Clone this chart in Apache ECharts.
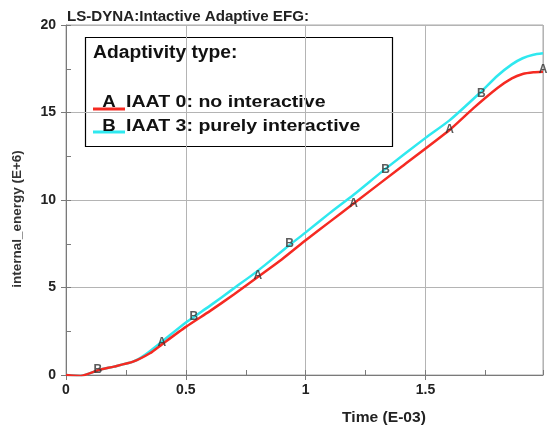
<!DOCTYPE html>
<html>
<head>
<meta charset="utf-8">
<script src="https://cdn.jsdelivr.net/npm/echarts@6/dist/echarts.min.js"></script>
<style>
  html, body { margin: 0; padding: 0; background: #fff; }
  #chart { width: 549px; height: 428px; }
</style>
</head>
<body>
<div id="chart"></div>
<script>
// Internal energy history for two adaptivity settings (time in E-03, energy in E+6)
const timeA = [0, 0.06, 0.14, 0.2, 0.28, 0.35, 0.4, 0.5, 0.6, 0.7, 0.8, 0.9, 1.0, 1.1, 1.2, 1.4, 1.6, 1.7, 1.8, 1.86, 1.905, 1.95, 1.99];
const energyA = [0, -0.05, 0.3, 0.48, 0.76, 1.24, 1.75, 2.75, 3.65, 4.6, 5.6, 6.6, 7.7, 8.75, 9.8, 11.9, 14.0, 15.25, 16.4, 16.95, 17.2, 17.3, 17.33];

const timeB = [0, 0.06, 0.14, 0.2, 0.28, 0.33, 0.4, 0.5, 0.6, 0.7, 0.8, 0.93, 1.0, 1.1, 1.2, 1.33, 1.5, 1.6, 1.725, 1.8, 1.86, 1.905, 1.95, 1.99];
const energyB = [0, -0.05, 0.3, 0.48, 0.76, 1.15, 1.9, 3.0, 3.95, 4.95, 5.95, 7.4, 8.15, 9.25, 10.3, 11.75, 13.55, 14.55, 16.1, 17.1, 17.75, 18.1, 18.3, 18.38];

// Curve identifier letters placed along each curve
const markTimeA = [0.4, 0.8, 1.2, 1.6, 1.99];
const markEnergyA = [1.85, 5.67, 9.81, 14.0, 17.45];
const markTimeB = [0.133, 0.533, 0.933, 1.333, 1.733];
const markEnergyB = [0.3, 3.35, 7.52, 11.75, 16.1];

const xTicks = [0, 0.5, 1, 1.5];
const yTicks = [0, 5, 10, 15, 20];

const titleText = 'LS-DYNA:Intactive Adaptive EFG:';
const legendTitle = 'Adaptivity type:';
const nameA = 'IAAT 0: no interactive';
const nameB = 'IAAT 3: purely interactive';
const xName = 'Time (E-03)';
const yName = 'internal_energy (E+6)';

const FONT = '"Liberation Sans", Arial, sans-serif';
const RED = '#f52a22';
const CYAN = '#2fe8ef';

const zip = (xs, ys) => xs.map((x, i) => [x, ys[i]]);

const chart = echarts.init(document.getElementById('chart'), null, { renderer: 'canvas' });

const gridBox = { left: 66, right: 6, top: 25, bottom: 53 };

const letterLabel = (ch) => ({
  show: true,
  position: 'inside',
  formatter: ch,
  color: '#333',
  fontFamily: FONT,
  fontWeight: 'bold',
  fontSize: 12
});

// horizontally widened bold text helper
const wideText = (x, y, text, size, sx, extra) => ({
  type: 'text', x: x, y: y, scaleX: sx,
  style: Object.assign({ text: text, fill: '#111', font: 'bold ' + size + 'px ' + FONT, verticalAlign: 'middle' }, extra || {})
});

chart.setOption({
  animation: false,
  backgroundColor: '#fff',
  grid: Object.assign({ show: true, borderColor: '#a8a8a8', borderWidth: 1 }, gridBox),
  xAxis: [
    {
      type: 'value', min: 0, max: 1.99, interval: 0.5,
      axisLine: { show: true, lineStyle: { color: '#7a7a7a', width: 1 } },
      axisTick: { show: true, inside: false, length: 5, lineStyle: { color: '#7a7a7a' } },
      axisLabel: {
        margin: 8, color: '#222', fontFamily: FONT, fontWeight: 'bold', fontSize: 14,
        showMaxLabel: false,
        formatter: (v) => (xTicks.indexOf(v) >= 0 ? String(v) : '')
      },
      splitLine: { show: true, lineStyle: { color: '#b4b4b4', width: 1 } }
    },
    {
      // inner minor ticks every 0.25
      type: 'value', min: 0, max: 1.99, interval: 0.25, position: 'bottom',
      axisLine: { show: false },
      axisTick: { show: true, inside: true, length: 5, lineStyle: { color: '#7a7a7a' } },
      axisLabel: { show: false },
      splitLine: { show: false }
    }
  ],
  yAxis: [
    {
      type: 'value', min: 0, max: 20, interval: 5,
      axisLine: { show: true, lineStyle: { color: '#7a7a7a', width: 1 } },
      axisTick: { show: true, inside: false, length: 5, lineStyle: { color: '#7a7a7a' } },
      axisLabel: {
        margin: 10, color: '#222', fontFamily: FONT, fontWeight: 'bold', fontSize: 14,
        formatter: (v) => (yTicks.indexOf(v) >= 0 ? String(v) : '')
      },
      splitLine: { show: true, lineStyle: { color: '#b4b4b4', width: 1 } }
    },
    {
      // inner minor ticks every 2.5
      type: 'value', min: 0, max: 20, interval: 2.5, position: 'left',
      axisLine: { show: false },
      axisTick: { show: true, inside: true, length: 5, lineStyle: { color: '#7a7a7a' } },
      axisLabel: { show: false },
      splitLine: { show: false }
    }
  ],
  series: [
    {
      name: nameA, type: 'line', data: zip(timeA, energyA), showSymbol: false, smooth: 0.2,
      lineStyle: { color: RED, width: 2.5 }, z: 3
    },
    {
      name: nameB, type: 'line', data: zip(timeB, energyB), showSymbol: false, smooth: 0.2,
      lineStyle: { color: CYAN, width: 2.5 }, z: 2
    },
    {
      type: 'scatter', data: zip(markTimeA, markEnergyA), symbolSize: 1,
      itemStyle: { color: 'rgba(0,0,0,0)' }, label: letterLabel('A'), clip: false, z: 5
    },
    {
      type: 'scatter', data: zip(markTimeB, markEnergyB), symbolSize: 1,
      itemStyle: { color: 'rgba(0,0,0,0)' }, label: letterLabel('B'), clip: false, z: 5
    }
  ],
  graphic: [
    wideText(67, 17, titleText, 14, 1.08, { fill: '#222' }),
    wideText(384, 418, xName, 15, 1.04, { fill: '#222', align: 'center' }),
    {
      type: 'text', x: 17, y: 219, rotation: Math.PI / 2,
      style: { text: yName, fill: '#333', font: 'bold 13.5px ' + FONT, align: 'center', verticalAlign: 'middle' }
    },
    {
      type: 'group', z: 10,
      children: [
        { type: 'rect', shape: { x: 85.5, y: 37.5, width: 307, height: 109 }, style: { fill: '#fff', stroke: '#000', lineWidth: 1.2 } },
        wideText(93, 53, legendTitle, 18, 1.07),
        { type: 'line', shape: { x1: 93, y1: 109, x2: 125, y2: 109 }, style: { stroke: RED, lineWidth: 3 } },
        wideText(109, 102, 'A', 17, 1.1, { align: 'center' }),
        wideText(126, 102, nameA, 17, 1.15),
        { type: 'line', shape: { x1: 93, y1: 132, x2: 125, y2: 132 }, style: { stroke: CYAN, lineWidth: 3 } },
        wideText(109, 126, 'B', 17, 1.1, { align: 'center' }),
        wideText(126, 126, nameB, 17, 1.15)
      ]
    }
  ]
});
</script>
</body>
</html>
